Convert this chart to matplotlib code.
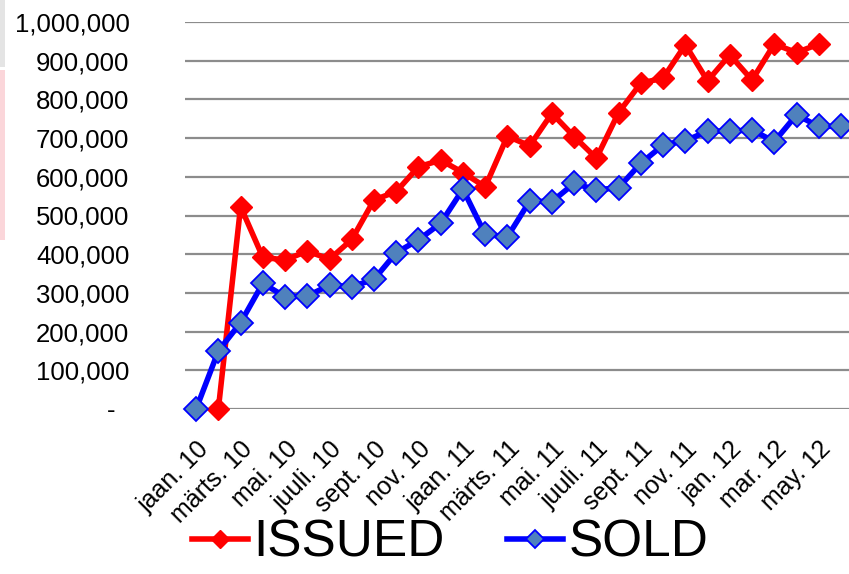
import numpy as np
import matplotlib.pyplot as plt
from matplotlib.patches import Rectangle
from matplotlib.ticker import FuncFormatter

plt.rcParams['font.family'] = ['Liberation Sans', 'DejaVu Sans']

# Months jaan.10 .. juuni.12
months = ['jaan. 10', 'veebr. 10', 'märts. 10', 'apr. 10', 'mai. 10', 'juuni. 10',
          'juuli. 10', 'aug. 10', 'sept. 10', 'okt. 10', 'nov. 10', 'dets. 10',
          'jaan. 11', 'veebr. 11', 'märts. 11', 'apr. 11', 'mai. 11', 'juuni. 11',
          'juuli. 11', 'aug. 11', 'sept. 11', 'okt. 11', 'nov. 11', 'dets. 11',
          'jan. 12', 'feb. 12', 'mar. 12', 'apr. 12', 'may. 12', 'jun. 12']

# ISSUED starts in veebr.10 and ends in may.12
issued = [None, 0, 523000, 392000, 385000, 408000, 387000, 438000, 540000,
          562000, 626000, 643000, 611000, 574000, 705000, 680000, 764000,
          704000, 648000, 766000, 842000, 855000, 941000, 848000, 915000,
          850000, 943000, 921000, 943000, None]

sold = [0, 150000, 223000, 325000, 290000, 292000, 320000, 316000, 335000,
        404000, 437000, 480000, 568000, 451000, 445000, 537000, 536000,
        583000, 566000, 572000, 635000, 682000, 693000, 718000, 718000,
        721000, 691000, 760000, 730000, 731000]

x = np.arange(len(months))
issued_arr = np.array([np.nan if v is None else v for v in issued], dtype=float)
sold_arr = np.array(sold, dtype=float)

fig = plt.figure(figsize=(8.49, 5.74), dpi=100)
ax = fig.add_axes([185 / 849, 1 - 409 / 574, 1 - 185 / 849, (409 - 22) / 574])

# faint tint along the left border
fig.patches.append(Rectangle((0, 0.582), 0.006, 0.296, transform=fig.transFigure,
                             color='#fbd6da', lw=0, zorder=0))
fig.patches.append(Rectangle((0, 0.883), 0.006, 0.117, transform=fig.transFigure,
                             color='#e4e4e4', lw=0, zorder=0))

ax.plot(x, issued_arr, color='#ff0000', lw=4, marker='D', ms=11.5,
        mfc='#ff0000', mec='#ff0000', label='ISSUED', zorder=3, clip_on=False)
ax.plot(x, sold_arr, color='#0000ff', lw=4, marker='D', ms=12,
        mfc='#4f81bd', mec='#0000ff', mew=1.3, label='SOLD', zorder=4, clip_on=False)

ax.set_ylim(0, 1000000)
ax.set_xlim(-0.5, 29.36)
ax.set_yticks(np.arange(0, 1000001, 100000))
ax.yaxis.set_major_formatter(FuncFormatter(lambda v, p: '-  ' if v == 0 else f'{int(v):,}'))
ax.yaxis.grid(True, color='#8c8c8c', lw=1.6)
ax.set_axisbelow(True)

ax.set_xticks(x[::2])
ax.set_xticklabels(months[::2], rotation=45, ha='right', rotation_mode='anchor')

for s in ax.spines.values():
    s.set_visible(False)
ax.tick_params(axis='y', length=0, labelsize=18.5, pad=40)
ax.tick_params(axis='x', length=0, labelsize=18, pad=20)

fig.legend(loc='lower center', bbox_to_anchor=(0.53, -0.07), ncol=2, frameon=False,
           fontsize=37, handlelength=1.1, handletextpad=0.1, columnspacing=1.2,
           markerscale=0.8)

fig.savefig('out.png', dpi=100)
